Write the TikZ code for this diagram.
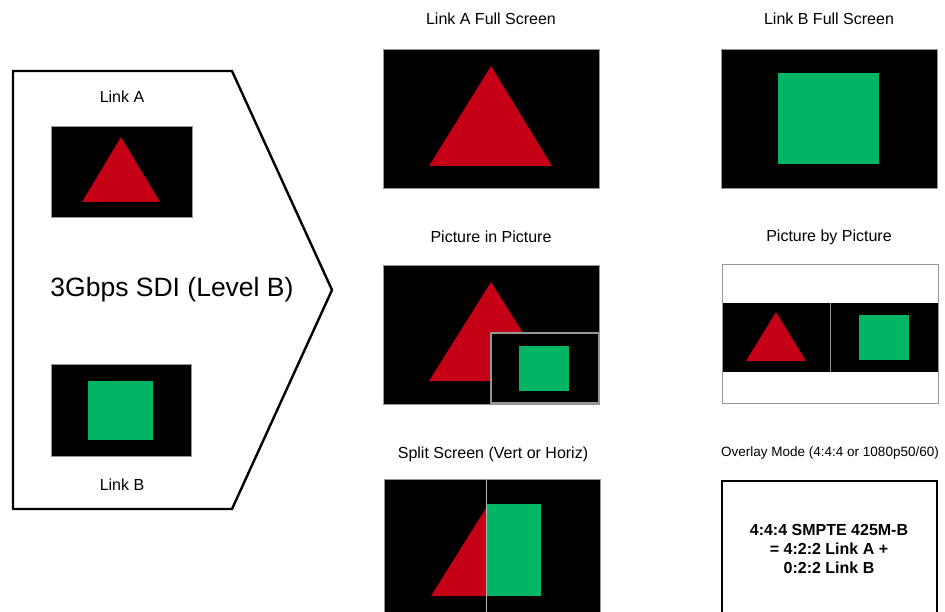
\documentclass[tikz,border=0pt]{standalone}
\usepackage{fontspec}
\setmainfont{Liberation Sans}
\definecolor{tri}{RGB}{197,0,22}
\definecolor{sq}{RGB}{0,181,100}
\definecolor{rim}{RGB}{150,150,150}
\begin{document}
\begin{tikzpicture}[x=1pt,y=-1pt,
  lbl/.style={inner sep=0pt,font=\fontsize{16}{19}\selectfont},
  screen/.style={fill=black,draw=rim,line width=0.8pt},
  redtri/.style={fill=tri,draw=none},
  greensq/.style={fill=sq,draw=none}]
\useasboundingbox (0,0) rectangle (945,612);
\clip (0,0) rectangle (945,612);
% left pentagon
\draw[line width=2.4pt,line join=miter] (13,71) -- (232,71) -- (332,290) -- (232,509) -- (13,509) -- cycle;
\node[lbl] (la) at (122,97) {Link A};
\node[lbl] (lb) at (122,485) {Link B};
\node[inner sep=0pt,font=\fontsize{26.5}{30}\selectfont] (sdi) at (172,290) {3Gbps SDI (Level B)};
\draw[screen] (51,126) rectangle (192,217);
\fill[redtri] (121,137) -- (160,202) -- (82,202) -- cycle;
\draw[screen] (51,364) rectangle (191,456);
\fill[greensq] (88,381) rectangle (153,440);
% Link A full screen
\node[lbl] (lafs) at (491,19) {Link A Full Screen};
\draw[screen] (383,49) rectangle (599,188);
\fill[redtri] (491,66) -- (552,166) -- (429,166) -- cycle;
% Link B full screen
\node[lbl] (lbfs) at (829,19) {Link B Full Screen};
\draw[screen] (721,49) rectangle (937,188);
\fill[greensq] (778,73) rectangle (879,164);
% Picture in picture
\node[lbl] (pip) at (491,237) {Picture in Picture};
\draw[screen] (383,265) rectangle (599,404);
\fill[redtri] (491,282) -- (553,381) -- (429,381) -- cycle;
\draw[fill=black,draw=rim,line width=1.3pt] (491,333) rectangle (599,403);
\fill[greensq] (519,346) rectangle (569,391);
% Picture by picture
\node[lbl] (pbp) at (829,237) {Picture by Picture};
\draw[fill=white,draw=rim,line width=1pt] (722,265) rectangle (938,403);
\fill[black] (722,303) rectangle (938,372);
\draw[rim,line width=1pt] (830,303) -- (830,372);
\draw[rim,line width=1pt] (722,265) rectangle (938,403);
\fill[redtri] (776,312) -- (806,361) -- (746,361) -- cycle;
\fill[greensq] (859,315) rectangle (909,360);
% Split screen
\node[lbl] (split) at (493,454) {Split Screen (Vert or Horiz)};
\draw[screen] (384,479) rectangle (600,640);
\fill[redtri] (486,508) -- (486,596) -- (431,596) -- cycle;
\fill[greensq] (486,504) rectangle (541,596);
\draw[rim!70!white,line width=1pt] (486,479) -- (486,640);
% Overlay mode
\node[inner sep=0pt,font=\fontsize{13.5}{16}\selectfont] (ovl) at (830,453) {Overlay Mode (4:4:4 or 1080p50/60)};
\draw[line width=2.8pt,fill=white] (722,481) rectangle (937,640);
\node[inner sep=0pt,align=center,font=\fontsize{16}{19}\selectfont\bfseries] (ovt) at (829,549) {4:4:4 SMPTE 425M-B\\= 4:2:2 Link A +\\0:2:2 Link B};
\end{tikzpicture}
\end{document}
